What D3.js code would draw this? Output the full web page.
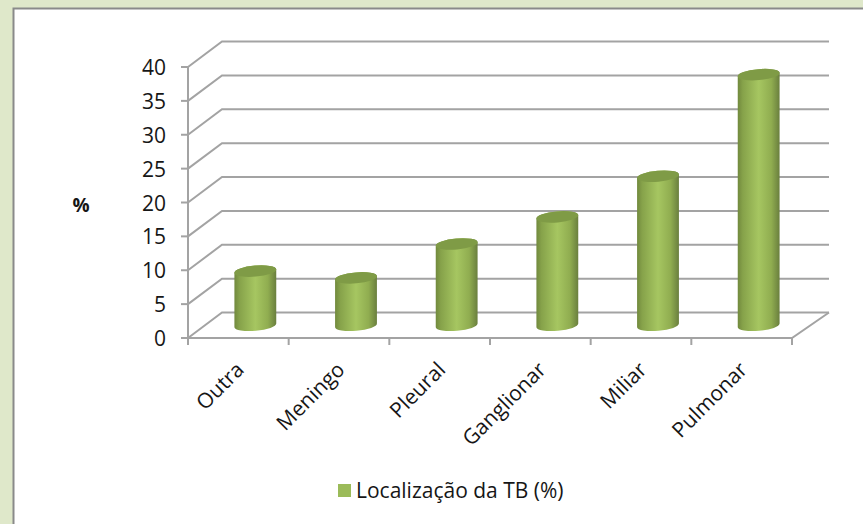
<!DOCTYPE html>
<html><head><meta charset="utf-8">
<script src="https://cdnjs.cloudflare.com/ajax/libs/d3/7.8.5/d3.min.js"></script>
<style>html,body{margin:0;padding:0;background:#dfe8ca;overflow:hidden}
text{font-family:"Open Sans",sans-serif;fill:#161616}</style></head>
<body><svg id="c" width="863" height="524"></svg>
<script>
const categories=["Outra","Meningo","Pleural","Ganglionar","Miliar","Pulmonar"];
const values=[8,7,12,16,22,37];
const yTicks=[0,5,10,15,20,25,30,35,40];
const seriesName="Localização da TB (%)";
const yTitle="%";

const svg=d3.select("#c");
svg.append("rect").attr("x",13.5).attr("y",8.5).attr("width",870).attr("height",530)
  .attr("fill","#fff").attr("stroke","#8a8a8a").attr("stroke-width",2);

const x=d3.scaleBand().domain(categories).range([188,792]);
const y=d3.scaleLinear().domain([0,40]).range([338,67]);
const dx=34,dy=-25.5,gridC="#a3a3a3";

const defs=svg.append("defs");
const g=defs.append("linearGradient").attr("id","cyl");
[[0,"#71893d"],[.12,"#86a24a"],[.5,"#a6c661"],[.8,"#90ad50"],[1,"#6a7f3e"]]
 .forEach(s=>g.append("stop").attr("offset",s[0]).attr("stop-color",s[1]));

const grid=svg.append("g").attr("fill","none").attr("stroke",gridC).attr("stroke-width",2);
yTicks.forEach(t=>{
  grid.append("path").attr("d",d3.line()([[x.range()[0],y(t)],[x.range()[0]+dx,y(t)+dy],[x.range()[1]+dx+3,y(t)+dy]]));
});
grid.append("path").attr("d",d3.line()([[x.range()[0],y(0)],[x.range()[1],y(0)],[x.range()[1]+dx+3,y(0)+dy]]));
grid.append("path").attr("d",d3.line()([[x.range()[0],y(0)+5],[x.range()[0],y(40)]]));
yTicks.forEach(t=>grid.append("path").attr("d",d3.line()([[x.range()[0]-7,y(t)],[x.range()[0],y(t)]])));
[...categories.map(c=>x(c)),x.range()[1]].forEach(p=>
  grid.append("path").attr("d",d3.line()([[p,y(0)],[p,y(0)+7]])));

svg.append("g").selectAll("text").data(yTicks).join("text")
  .attr("x",166).attr("y",d=>y(d)+8).attr("text-anchor","end").attr("font-size",21).text(d=>d);
svg.append("text").attr("x",81).attr("y",212).attr("text-anchor","middle").attr("font-size",19).attr("font-weight",700).text(yTitle);

const rx=21,ry=5.5,tilt=-5;
const bars=svg.append("g");
categories.forEach((c,i)=>{
  const cx=x(c)+x.bandwidth()/2+17;
  const mid=-12.7;
  const yTop=y(values[i])+mid, yBot=y(0)+mid;
  const a=tilt*Math.PI/180, ox=rx*Math.cos(a), oy=rx*Math.sin(a);
  bars.append("path").attr("fill","url(#cyl)")
    .attr("d",`M${cx-ox},${yTop-oy}L${cx-ox},${yBot-oy}A${rx},${ry} ${tilt} 0 0 ${cx+ox},${yBot+oy}L${cx+ox},${yTop+oy}A${rx},${ry} ${tilt} 0 0 ${cx-ox},${yTop-oy}Z`);
  bars.append("ellipse").attr("cx",cx).attr("cy",yTop).attr("rx",rx).attr("ry",ry)
    .attr("transform",`rotate(${tilt} ${cx} ${yTop})`).attr("fill","#7f9b46");
});

svg.append("g").selectAll("text").data(categories).join("text")
  .attr("text-anchor","end").attr("font-size",21)
  .attr("transform",c=>`translate(${x(c)+x.bandwidth()/2+7},${y(0)+33}) rotate(-45)`).text(c=>c);

svg.append("rect").attr("x",338).attr("y",484).attr("width",13).attr("height",13).attr("fill","#9bbb59");
svg.append("text").attr("x",356).attr("y",498).attr("font-size",21).text(seriesName);
</script></body></html>
